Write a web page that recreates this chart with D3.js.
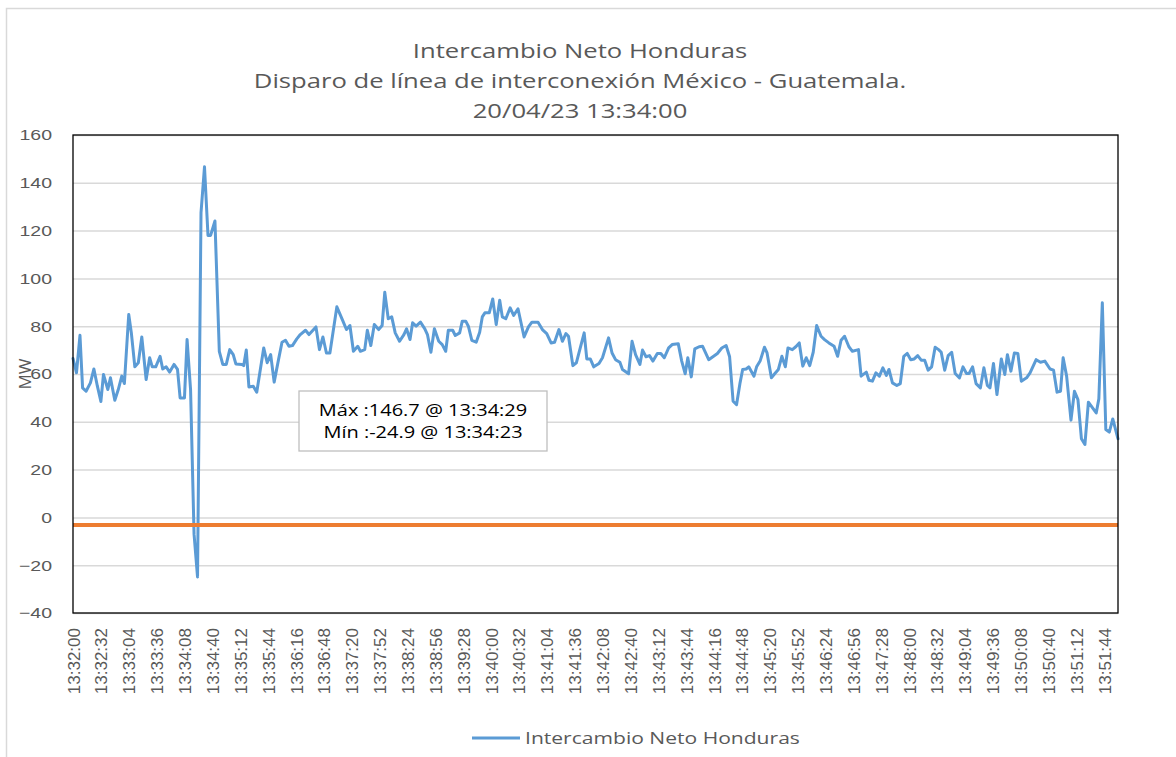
<!DOCTYPE html>
<html lang="es">
<head>
<meta charset="UTF-8">
<title>Intercambio Neto Honduras</title>
<script src="https://d3js.org/d3.v7.min.js"></script>
<style>
  body { margin: 0; background: #fff; }
  svg { display: block; font-family: "Open Sans", Arial, sans-serif; }
  .grid line { stroke: #d9d9d9; stroke-width: 1.5; }
  .grid path { display: none; }
  .ytick text, .xtick text { fill: #595959; }
  .ytick path, .ytick line, .xtick path, .xtick line { display: none; }
</style>
</head>
<body>
<div id="chart"></div>
<script>
// seconds after 13:32:00
const seconds = [
  0, 4, 8, 11, 15, 20, 24, 28, 32, 35, 40, 43, 48, 52, 56, 59, 64, 67, 71, 75,
  79, 84, 88, 91, 95, 100, 103, 107, 111, 116, 120, 123, 128, 131, 135, 139, 143, 147, 151, 155,
  158, 163, 168, 172, 176, 180, 184, 187, 194, 196, 199, 202, 207, 211, 219, 223, 227, 231, 236, 240,
  244, 248, 252, 257, 261, 267, 271, 279, 283, 287, 291, 295, 303, 310, 314, 318, 322, 327, 330, 335,
  338, 342, 346, 351, 355, 358, 362, 366, 370, 375, 380, 383, 387, 390, 394, 399, 404, 407, 411, 415,
  420, 424, 428, 431, 436, 439, 444, 447, 451, 454, 458, 463, 467, 470, 473, 478, 482, 486, 490, 493,
  497, 502, 506, 511, 518, 523, 527, 534, 539, 544, 549, 553, 558, 562, 566, 569, 574, 578, 587, 590,
  594, 598, 604, 608, 615, 619, 623, 628, 631, 638, 642, 646, 651, 654, 658, 662, 666, 671, 675, 679,
  684, 688, 695, 699, 703, 706, 710, 714, 719, 723, 730, 740, 745, 750, 754, 758, 762, 766, 769, 773,
  776, 782, 785, 789, 794, 797, 802, 806, 810, 814, 818, 821, 826, 830, 834, 838, 842, 846, 850, 854,
  859, 863, 868, 874, 878, 882, 886, 891, 895, 902, 905, 911, 914, 918, 922, 926, 930, 934, 937, 941,
  946, 950, 954, 958, 962, 966, 970, 974, 978, 982, 986, 990, 994, 997, 1001, 1005, 1009, 1013, 1018, 1022,
  1026, 1029, 1033, 1037, 1042, 1046, 1050, 1053, 1057, 1061, 1066, 1070, 1073, 1077, 1081, 1085, 1089, 1095, 1099, 1106,
  1111, 1116, 1122, 1126, 1130, 1134, 1137, 1141, 1146, 1150, 1154, 1158, 1162, 1166, 1171, 1175, 1178, 1182, 1186, 1190,
  1194, 1200
];
const intercambio = [
  66.5, 60.5, 76.2, 54.2, 52.8, 56.3, 62.1, 54.9, 48.5, 59.8, 53.5, 58.4, 49.0, 53.5, 59.1, 56.0, 84.9, 77.2, 63.0, 64.7,
  75.5, 57.7, 66.8, 63.0, 63.0, 67.4, 62.1, 63.0, 60.8, 64.0, 61.9, 50.0, 50.0, 74.4, 53.5, -7.0, -24.9, 127.5, 146.7, 118.0,
  118.0, 124.0, 69.5, 64.0, 64.0, 70.2, 68.1, 64.2, 64.0, 63.5, 70.0, 54.6, 54.9, 52.4, 70.9, 64.7, 68.1, 56.6, 66.0, 73.3,
  74.1, 71.6, 71.9, 74.7, 76.5, 78.3, 76.5, 79.7, 70.2, 75.5, 68.8, 68.8, 88.1, 82.1, 78.6, 80.3, 69.5, 71.6, 69.5, 70.2,
  78.3, 71.9, 80.7, 78.6, 80.3, 94.2, 83.1, 83.9, 77.2, 73.7, 76.5, 78.9, 74.4, 81.4, 80.0, 81.7, 78.9, 76.5, 69.1, 78.9,
  73.7, 72.3, 69.5, 78.3, 78.3, 76.1, 77.2, 82.1, 82.1, 80.0, 74.1, 73.3, 77.5, 83.9, 85.6, 85.6, 91.4, 80.7, 90.9, 83.9,
  83.1, 87.7, 84.5, 87.3, 75.5, 79.7, 81.7, 81.7, 78.6, 76.9, 73.0, 73.3, 78.6, 73.7, 76.9, 75.8, 63.5, 64.7, 77.2, 66.3,
  66.3, 63.0, 64.4, 66.8, 75.1, 68.8, 66.0, 64.9, 61.9, 60.1, 73.7, 68.1, 64.0, 70.0, 67.2, 67.7, 65.4, 68.6, 68.6, 66.8,
  70.9, 72.3, 72.7, 65.4, 60.1, 66.8, 58.8, 70.5, 71.4, 71.6, 66.0, 68.6, 70.9, 71.9, 67.2, 48.6, 47.2, 56.3, 61.9, 62.1,
  63.0, 59.1, 63.0, 65.4, 71.2, 68.8, 58.4, 60.2, 61.9, 67.4, 63.0, 70.9, 70.2, 71.4, 73.0, 63.3, 66.8, 63.5, 69.1, 80.3,
  75.8, 74.4, 73.0, 71.6, 67.4, 74.1, 75.8, 71.4, 69.5, 70.2, 59.1, 60.8, 57.4, 57.0, 60.5, 59.1, 62.6, 59.4, 61.9, 56.3,
  55.2, 56.0, 67.4, 68.6, 66.0, 66.3, 67.7, 65.8, 65.8, 61.6, 63.0, 71.2, 70.2, 69.1, 61.6, 67.7, 69.1, 60.2, 58.4, 63.0,
  60.2, 60.2, 63.0, 56.0, 54.2, 62.6, 55.2, 54.2, 64.4, 51.4, 66.3, 59.8, 68.1, 61.2, 68.8, 68.6, 57.0, 58.4, 60.5, 66.0,
  64.9, 65.4, 62.1, 61.6, 52.4, 52.8, 66.8, 59.1, 40.7, 52.8, 49.3, 32.9, 30.5, 48.2, 45.7, 43.7, 49.6, 89.8, 36.8, 35.7,
  41.2, 32.9
];
const referencia = [-3.2, -3.2];
const referenciaSeconds = [0, 1200];

const yTicks = [-40, -20, 0, 20, 40, 60, 80, 100, 120, 140, 160];
const xTickLabels = [
  "13:32:00", "13:32:32", "13:33:04", "13:33:36", "13:34:08", "13:34:40", "13:35:12", "13:35:44",
  "13:36:16", "13:36:48", "13:37:20", "13:37:52", "13:38:24", "13:38:56", "13:39:28", "13:40:00",
  "13:40:32", "13:41:04", "13:41:36", "13:42:08", "13:42:40", "13:43:12", "13:43:44", "13:44:16",
  "13:44:48", "13:45:20", "13:45:52", "13:46:24", "13:46:56", "13:47:28", "13:48:00", "13:48:32",
  "13:49:04", "13:49:36", "13:50:08", "13:50:40", "13:51:12", "13:51:44"
];
const titleLines = [
  "Intercambio Neto Honduras",
  "Disparo de línea de interconexión México - Guatemala.",
  "20/04/23 13:34:00"
];
const seriesName = "Intercambio Neto Honduras";
const notes = ["Máx :146.7 @ 13:34:29", "Mín :-24.9 @ 13:34:23"];

const W = 1176, H = 757;
const plot = { left: 73, top: 135, right: 1118, bottom: 613 };

const toSec = s => { const p = s.split(":").map(Number); return (p[0] - 13) * 3600 + (p[1] - 32) * 60 + p[2]; };

const svg = d3.select("#chart").append("svg")
  .attr("width", W).attr("height", H);

svg.append("rect").attr("width", W).attr("height", H).attr("fill", "#fff");
// outer chart frame
svg.append("path")
  .attr("d", `M6.5,${H} V8.5 H${W}`)
  .attr("fill", "none").attr("stroke", "#d9d9d9").attr("stroke-width", 1.5);

const x = d3.scaleLinear().domain([0, 1200]).range([plot.left, plot.right]);
const y = d3.scaleLinear().domain([-40, 160]).range([plot.bottom, plot.top]);

// gridlines
svg.append("g").attr("class", "grid")
  .attr("transform", `translate(${plot.left},0)`)
  .call(d3.axisLeft(y).tickValues(yTicks).tickSize(-(plot.right - plot.left)).tickFormat(""));

// y tick labels
const yAx = svg.append("g").attr("class", "ytick")
  .attr("transform", `translate(${plot.left},0)`)
  .call(d3.axisLeft(y).tickValues(yTicks).tickSize(0).tickPadding(0));
yAx.selectAll("text")
  .attr("font-size", 15)
  .attr("x", -21 / 1.3)
  .attr("transform", "scale(1.3,1)");

// x tick labels
const xAx = svg.append("g").attr("class", "xtick")
  .attr("transform", `translate(0,${plot.bottom})`)
  .call(d3.axisBottom(x).tickValues(xTickLabels.map(toSec)).tickSize(0)
    .tickFormat((d, i) => xTickLabels[i]));
xAx.selectAll("text")
  .attr("font-size", 17)
  .attr("transform", "rotate(-90)")
  .attr("text-anchor", "end")
  .attr("x", -15)
  .attr("y", 0)
  .attr("dy", "0.36em");

// y axis title
svg.append("text")
  .attr("transform", "translate(31,374) rotate(-90)")
  .attr("text-anchor", "middle")
  .attr("font-size", 17)
  .attr("fill", "#595959")
  .text("MW");

// series line
const line = d3.line().x(d => x(d[0])).y(d => y(d[1]));
svg.append("path")
  .datum(seconds.map((s, i) => [s, intercambio[i]]))
  .attr("d", line)
  .attr("fill", "none")
  .attr("stroke", "#5b9bd5")
  .attr("stroke-width", 3)
  .attr("stroke-linejoin", "round")
  .attr("stroke-linecap", "round");

// orange reference line
svg.append("path")
  .datum(referenciaSeconds.map((s, i) => [s, referencia[i]]))
  .attr("d", line)
  .attr("fill", "none")
  .attr("stroke", "#ed7d31")
  .attr("stroke-width", 4);

// plot border
svg.append("rect")
  .attr("x", plot.left).attr("y", plot.top)
  .attr("width", plot.right - plot.left).attr("height", plot.bottom - plot.top)
  .attr("fill", "none").attr("stroke", "#000").attr("stroke-width", 1.3);

// title
svg.append("g").selectAll("text")
  .data(titleLines).join("text")
  .attr("transform", (d, i) => `translate(580,${58 + i * 30}) scale(1.25,1)`)
  .attr("text-anchor", "middle")
  .attr("font-size", 20.5)
  .attr("fill", "#595959")
  .text(d => d);

// max / min note
svg.append("rect")
  .attr("x", 299).attr("y", 391).attr("width", 248).attr("height", 60)
  .attr("fill", "#fff").attr("stroke", "#bfbfbf").attr("stroke-width", 1.3);
svg.append("g").selectAll("text")
  .data(notes).join("text")
  .attr("transform", (d, i) => `translate(423,${416 + i * 22}) scale(1.25,1)`)
  .attr("text-anchor", "middle")
  .attr("font-size", 16)
  .attr("fill", "#000")
  .text(d => d);

// legend
svg.append("line")
  .attr("x1", 472).attr("x2", 520).attr("y1", 738).attr("y2", 738)
  .attr("stroke", "#5b9bd5").attr("stroke-width", 3);
svg.append("text")
  .attr("transform", "translate(525,744) scale(1.24,1)")
  .attr("font-size", 17)
  .attr("fill", "#595959")
  .text(seriesName);
</script>
</body>
</html>
